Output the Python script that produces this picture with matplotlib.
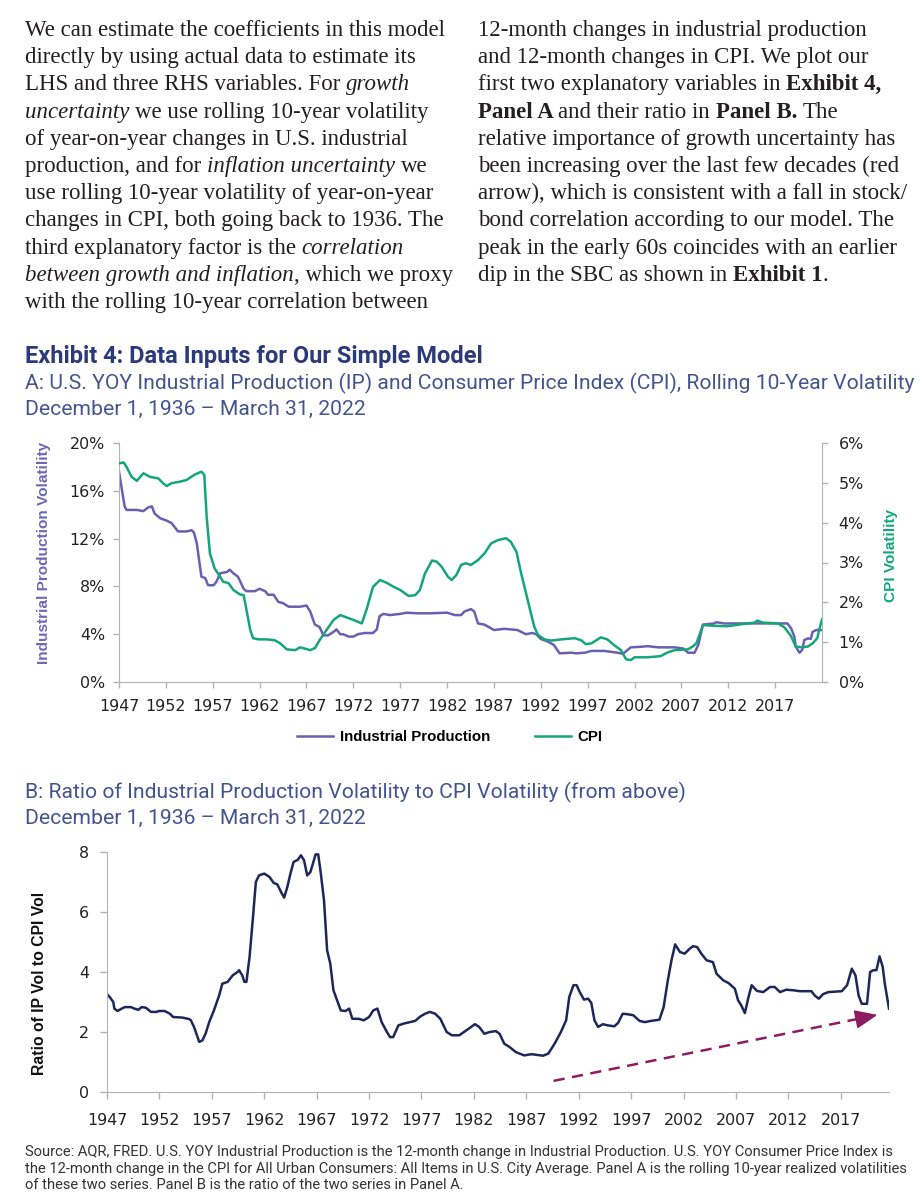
import matplotlib
matplotlib.use("Agg")
import matplotlib.pyplot as plt
from matplotlib.ticker import FuncFormatter

# ---------------- data ----------------
ip_years = [1947.0, 1947.6, 1947.8, 1948.9, 1949.6, 1950.1, 1950.5, 1950.8, 1951.4, 1952.1,
            1952.6, 1953.3, 1954.2, 1954.75, 1955.0, 1955.3, 1955.6, 1955.8, 1956.2, 1956.5,
            1957.1, 1957.4, 1957.8, 1958.5, 1958.8, 1959.2, 1959.7, 1960.3, 1960.6, 1961.5,
            1962.0, 1962.6, 1962.9, 1963.5, 1964.0, 1964.5, 1965.1, 1966.3, 1967.0, 1967.4,
            1967.9, 1968.4, 1968.8, 1969.3, 1969.9, 1970.2, 1970.6, 1970.9, 1971.5, 1972.0,
            1972.5, 1973.2, 1974.1, 1974.5, 1974.8, 1975.2, 1975.9, 1977.0, 1977.7, 1978.8,
            1980.2, 1982.0, 1982.85, 1983.5, 1983.85, 1984.55, 1984.9, 1985.3, 1986.0, 1987.0,
            1988.1, 1989.5, 1989.9, 1990.4, 1991.1, 1991.5, 1992.0, 1992.7, 1993.4, 1994.0,
            1995.2, 1995.8, 1996.7, 1997.4, 1998.8, 2000.2, 2000.8, 2000.9, 2001.6, 2002.7,
            2003.4, 2004.5, 2006.3, 2007.2, 2007.7, 2008.4, 2008.8, 2009.3, 2010.5, 2010.7,
            2011.6, 2013.0, 2014.4, 2015.5, 2016.9, 2018.3, 2018.7, 2019.05, 2019.2, 2019.6,
            2019.9, 2020.1, 2020.5, 2020.8, 2021.0, 2021.4, 2022.0]
ip_vol = [17.6, 14.7, 14.4, 14.4, 14.3, 14.6, 14.7, 14.1, 13.7, 13.5,
          13.3, 12.6, 12.6, 12.7, 12.5, 11.6, 9.9, 8.8, 8.7, 8.1,
          8.1, 8.4, 9.1, 9.2, 9.4, 9.1, 8.8, 7.8, 7.6, 7.6,
          7.8, 7.6, 7.3, 7.3, 6.7, 6.6, 6.3, 6.3, 6.4, 5.9,
          4.8, 4.6, 3.9, 3.9, 4.2, 4.4, 4.0, 4.0, 3.8, 3.8,
          4.0, 4.1, 4.1, 4.4, 5.5, 5.7, 5.6, 5.7, 5.8, 5.75,
          5.75, 5.8, 5.6, 5.6, 5.9, 6.1, 5.9, 4.9, 4.8, 4.35,
          4.45, 4.35, 4.2, 4.0, 4.1, 4.0, 3.6, 3.4, 3.1, 2.4,
          2.45, 2.4, 2.45, 2.6, 2.6, 2.45, 2.35, 2.45, 2.9, 2.95,
          3.0, 2.9, 2.9, 2.8, 2.45, 2.45, 3.1, 4.8, 4.9, 5.0,
          4.9, 4.9, 4.9, 4.9, 4.9, 4.9, 4.5, 3.8, 2.95, 2.45,
          2.7, 3.5, 3.65, 3.6, 4.2, 4.35, 4.35]

cpi_years = [1947.0, 1947.5, 1947.8, 1948.35, 1948.9, 1949.6, 1950.3, 1951.2, 1951.7, 1952.1,
             1952.6, 1953.5, 1954.2, 1955.1, 1955.8, 1956.1, 1956.35, 1956.7, 1957.2, 1957.8,
             1958.1, 1958.7, 1959.2, 1959.9, 1960.3, 1960.6, 1961.0, 1961.3, 1961.9, 1962.75,
             1963.6, 1964.2, 1964.9, 1965.8, 1966.3, 1966.8, 1967.4, 1967.9, 1968.4, 1969.15,
             1969.9, 1970.6, 1971.3, 1972.0, 1972.9, 1973.4, 1974.1, 1974.85, 1975.55, 1976.3,
             1977.0, 1977.9, 1978.6, 1979.1, 1979.65, 1980.4, 1980.9, 1981.4, 1982.1, 1982.5,
             1983.0, 1983.5, 1984.0, 1984.55, 1985.3, 1986.0, 1986.7, 1987.4, 1988.3, 1988.8,
             1989.4, 1989.9, 1990.6, 1991.3, 1991.7, 1992.4, 1993.1, 1994.2, 1995.6, 1996.3,
             1996.8, 1997.4, 1998.4, 1999.1, 1999.8, 2000.55, 2001.1, 2001.6, 2002.0, 2003.4,
             2004.8, 2005.5, 2006.3, 2007.7, 2008.2, 2008.6, 2009.3, 2010.5, 2011.9, 2013.7,
             2014.8, 2015.1, 2015.7, 2017.3, 2018.0, 2018.7, 2019.2, 2019.8, 2020.5, 2021.0,
             2021.5, 2021.7, 2022.0]
cpi_vol = [5.49, 5.51, 5.4, 5.15, 5.05, 5.24, 5.15, 5.11, 4.99, 4.92,
           4.99, 5.03, 5.07, 5.21, 5.28, 5.2, 4.15, 3.23, 2.85, 2.64,
           2.52, 2.48, 2.31, 2.2, 2.18, 1.81, 1.31, 1.1, 1.07, 1.07,
           1.05, 0.97, 0.82, 0.8, 0.87, 0.84, 0.8, 0.85, 1.05, 1.31,
           1.56, 1.68, 1.62, 1.56, 1.47, 1.81, 2.39, 2.56, 2.49, 2.39,
           2.31, 2.16, 2.18, 2.31, 2.73, 3.05, 3.02, 2.9, 2.64, 2.56,
           2.69, 2.94, 2.98, 2.94, 3.06, 3.23, 3.48, 3.56, 3.61, 3.52,
           3.27, 2.73, 2.06, 1.39, 1.18, 1.07, 1.04, 1.07, 1.1, 1.05,
           0.95, 0.97, 1.12, 1.07, 0.93, 0.8, 0.57, 0.55, 0.62, 0.62,
           0.65, 0.74, 0.8, 0.82, 0.89, 0.97, 1.43, 1.41, 1.4, 1.46,
           1.49, 1.54, 1.49, 1.47, 1.37, 1.15, 0.89, 0.87, 0.89, 0.97,
           1.1, 1.31, 1.57]

ratio_years = [1947.0, 1947.25, 1947.6, 1947.7, 1948.0, 1948.4, 1948.7, 1949.3, 1949.6, 1950.0,
               1950.3, 1950.7, 1951.2, 1951.7, 1952.0, 1952.5, 1953.0, 1953.3, 1954.2, 1954.85,
               1955.0, 1955.3, 1955.8, 1956.1, 1956.4, 1956.75, 1957.2, 1957.7, 1958.0, 1958.5,
               1959.0, 1959.45, 1959.6, 1959.9, 1960.1, 1960.3, 1960.6, 1960.9, 1961.2, 1961.5,
               1962.0, 1962.5, 1962.9, 1963.25, 1963.6, 1963.9, 1964.2, 1964.5, 1964.8, 1965.2,
               1965.5, 1965.8, 1966.1, 1966.4, 1966.6, 1966.9, 1967.15, 1967.4, 1967.7, 1968.0,
               1968.3, 1968.6, 1968.95, 1969.3, 1969.75, 1970.1, 1970.4, 1971.0, 1971.5, 1972.0,
               1972.4, 1972.8, 1972.9, 1973.2, 1973.7, 1974.0, 1974.3, 1974.8, 1975.3, 1975.9,
               1976.4, 1976.9, 1977.35, 1977.8, 1978.3, 1978.8, 1979.4, 1979.9, 1980.6, 1981.3,
               1982.1, 1982.5, 1983.0, 1983.5, 1984.1, 1984.45, 1984.9, 1985.4, 1986.0, 1986.8,
               1987.5, 1988.6, 1989.1, 1989.7, 1990.3, 1990.8, 1991.1, 1991.5, 1991.8, 1992.1,
               1992.5, 1992.9, 1993.2, 1993.5, 1993.85, 1994.3, 1994.8, 1995.4, 1995.75, 1996.2,
               1996.7, 1997.2, 1997.8, 1998.3, 1998.9, 1999.7, 2000.1, 2000.5, 2000.85, 2001.2,
               2001.65, 2002.1, 2002.6, 2002.9, 2003.3, 2003.7, 2004.2, 2004.8, 2005.15, 2005.8,
               2006.3, 2006.9, 2007.2, 2007.5, 2007.85, 2008.2, 2008.5, 2009.0, 2009.6, 2010.25,
               2010.7, 2011.2, 2011.8, 2012.5, 2013.1, 2014.2, 2014.5, 2014.9, 2015.3, 2015.8,
               2017.1, 2017.6, 2018.05, 2018.4, 2018.7, 2019.0, 2019.5, 2019.8, 2020.1, 2020.4,
               2020.7, 2021.0, 2021.2, 2021.6]
ratio_values = [3.26, 3.17, 3.0, 2.78, 2.7, 2.78, 2.83, 2.83, 2.78, 2.74,
                2.83, 2.81, 2.67, 2.67, 2.7, 2.7, 2.61, 2.5, 2.48, 2.43,
                2.39, 2.17, 1.67, 1.72, 1.94, 2.33, 2.72, 3.22, 3.61, 3.67,
                3.89, 4.0, 4.06, 3.89, 3.67, 3.67, 4.5, 5.72, 7.0, 7.22,
                7.28, 7.17, 6.97, 6.92, 6.67, 6.48, 6.83, 7.28, 7.67, 7.74,
                7.89, 7.72, 7.22, 7.33, 7.56, 7.92, 7.92, 7.28, 6.39, 4.72,
                4.28, 3.39, 3.06, 2.72, 2.7, 2.78, 2.44, 2.44, 2.39, 2.5,
                2.72, 2.78, 2.67, 2.33, 2.0, 1.83, 1.83, 2.22, 2.28, 2.33,
                2.37, 2.52, 2.61, 2.67, 2.61, 2.44, 2.0, 1.89, 1.89, 2.06,
                2.26, 2.17, 1.94, 2.0, 2.03, 1.94, 1.61, 1.5, 1.33, 1.22,
                1.26, 1.21, 1.28, 1.61, 2.0, 2.39, 3.17, 3.56, 3.56, 3.33,
                3.08, 3.11, 2.97, 2.39, 2.17, 2.26, 2.22, 2.19, 2.3, 2.61,
                2.59, 2.56, 2.37, 2.33, 2.37, 2.41, 2.83, 3.72, 4.39, 4.92,
                4.67, 4.61, 4.78, 4.86, 4.83, 4.61, 4.39, 4.33, 3.94, 3.72,
                3.63, 3.44, 3.06, 2.89, 2.63, 3.17, 3.56, 3.37, 3.33, 3.5,
                3.5, 3.33, 3.41, 3.39, 3.36, 3.36, 3.22, 3.11, 3.26, 3.33,
                3.36, 3.56, 4.11, 3.89, 3.22, 2.94, 2.94, 4.0, 4.06, 4.06,
                4.52, 4.17, 3.61, 2.78]

year_ticks = [1947, 1952, 1957, 1962, 1967, 1972, 1977, 1982, 1987, 1992, 1997, 2002, 2007, 2012, 2017]
ip_ticks = [0, 4, 8, 12, 16, 20]
cpi_ticks = [0, 1, 2, 3, 4, 5, 6]
ratio_ticks = [0, 2, 4, 6, 8]
trend_start = (1989.6, 0.37)
trend_end = (2020.5, 2.57)

body_left = [
    [("We can estimate the coefficients in this model", "r")],
    [("directly by using actual data to estimate its", "r")],
    [("LHS and three RHS variables. For ", "r"), ("growth", "i")],
    [("uncertainty ", "i"), ("we use rolling 10-year volatility", "r")],
    [("of year-on-year changes in U.S. industrial", "r")],
    [("production, and for ", "r"), ("inflation uncertainty ", "i"), ("we", "r")],
    [("use rolling 10-year volatility of year-on-year", "r")],
    [("changes in CPI, both going back to 1936. The", "r")],
    [("third explanatory factor is the ", "r"), ("correlation", "i")],
    [("between growth and inflation", "i"), (", which we proxy", "r")],
    [("with the rolling 10-year correlation between", "r")],
]
body_right = [
    [("12-month changes in industrial production", "r")],
    [("and 12-month changes in CPI. We plot our", "r")],
    [("first two explanatory variables in ", "r"), ("Exhibit 4,", "b")],
    [("Panel A ", "b"), ("and their ratio in ", "r"), ("Panel B. ", "b"), ("The", "r")],
    [("relative importance of growth uncertainty has", "r")],
    [("been increasing over the last few decades (red", "r")],
    [("arrow), which is consistent with a fall in stock/", "r")],
    [("bond correlation according to our model. The", "r")],
    [("peak in the early 60s coincides with an earlier", "r")],
    [("dip in the SBC as shown in ", "r"), ("Exhibit 1", "b"), (".", "r")],
]
title = "Exhibit 4: Data Inputs for Our Simple Model"
sub_a = "A: U.S. YOY Industrial Production (IP) and Consumer Price Index (CPI), Rolling 10-Year Volatility"
sub_b = "B: Ratio of Industrial Production Volatility to CPI Volatility (from above)"
date_line = "December 1, 1936 \u2013 March 31, 2022"
footer = [
    "Source: AQR, FRED. U.S. YOY Industrial Production is the 12-month change in Industrial Production. U.S. YOY Consumer Price Index is",
    "the 12-month change in the CPI for All Urban Consumers: All Items in U.S. City Average. Panel A is the rolling 10-year realized volatilities",
    "of these two series. Panel B is the ratio of the two series in Panel A.",
]

# ---------------- styling ----------------
IP_C = "#6a60b2"
CPI_C = "#14a67b"
RATIO_C = "#1d2859"
ARROW_C = "#8e1c62"
TITLE_C = "#2b3a78"
SUB_C = "#44548f"
SPINE_C = "#b3b3b3"
TICK_C = "#222222"
BODY_C = "#231f20"
SERIF = "Liberation Serif"
SANS = "Roboto"
LAB = "Liberation Sans"
TICK_FAMILY = "DejaVu Sans"
TICK_SIZE = 11.4

W, H = 922, 1200
fig = plt.figure(figsize=(9.22, 12), dpi=100)
renderer = fig.canvas.get_renderer()


def fx(x):
    return x / W


def fy(y):
    return 1 - y / H


def text_width(s, **kw):
    t = fig.text(0, 0, s, **kw)
    w = t.get_window_extent(renderer).width
    t.remove()
    return w


def fit_size(s, target, **kw):
    return 12 * target / text_width(s, fontsize=12, **kw)


def style_kw(style, size, family, color):
    kw = dict(fontsize=size, family=family, color=color)
    if style == "i":
        kw["style"] = "italic"
    elif style == "b":
        kw["weight"] = "bold"
    return kw


def rich_line(x, y, segments, size, family, color):
    cur = x
    for s, st in segments:
        kw = style_kw(st, size, family, color)
        fig.text(fx(cur), fy(y), s, va="baseline", ha="left", **kw)
        cur += text_width(s + "x", **kw) - text_width("x", **kw)


def style_ticklabels(ax, which="both"):
    labs = []
    if which in ("both", "x"):
        labs += ax.get_xticklabels()
    if which in ("both", "y"):
        labs += ax.get_yticklabels()
    for lab in labs:
        lab.set_fontfamily(TICK_FAMILY)
        lab.set_fontsize(TICK_SIZE)


# ---------------- body text ----------------
body_size = fit_size(body_left[0][0][0], 419, family=SERIF)
for i, line in enumerate(body_left):
    rich_line(25, 36 + 27.2 * i, line, body_size, SERIF, BODY_C)
for i, line in enumerate(body_right):
    rich_line(478, 36 + 27.2 * i, line, body_size, SERIF, BODY_C)

# ---------------- titles ----------------
t_size = fit_size(title, 457, family=SANS, weight="bold")
fig.text(fx(25), fy(363), title, fontsize=t_size, family=SANS, weight="bold",
         color=TITLE_C, va="baseline")
s_size = fit_size(sub_a, 883, family=SANS)
fig.text(fx(25), fy(389), sub_a, fontsize=s_size, family=SANS, color=SUB_C, va="baseline")
fig.text(fx(25), fy(415), date_line, fontsize=s_size, family=SANS, color=SUB_C, va="baseline")
fig.text(fx(25), fy(798), sub_b, fontsize=s_size, family=SANS, color=SUB_C, va="baseline")
fig.text(fx(25), fy(824), date_line, fontsize=s_size, family=SANS, color=SUB_C, va="baseline")

f_size = min(fit_size(footer[0], 878, family=SANS), fit_size(footer[1], 880, family=SANS))
for i, line in enumerate(footer):
    fig.text(fx(25), fy(1156 + 16.5 * i), line, fontsize=f_size, family=SANS,
             color="#333333", va="baseline")

# ---------------- panel A ----------------
axA = fig.add_axes([fx(119), fy(682), (822 - 119) / W, (682 - 443) / H])
lip, = axA.plot(ip_years, ip_vol, color=IP_C, lw=1.8, label="Industrial Production")
axA.set_xlim(1947, 2022)
axA.set_ylim(0, 20)
axA.set_yticks(ip_ticks)
axA.set_xticks(year_ticks)
axA.yaxis.set_major_formatter(FuncFormatter(lambda v, p: f"{v:.0f}%"))
for s in ["top", "right"]:
    axA.spines[s].set_visible(False)
for s in ["left", "bottom"]:
    axA.spines[s].set_color(SPINE_C)
axA.tick_params(axis="both", color=SPINE_C, length=4, width=1, labelcolor=TICK_C)
axA.tick_params(axis="x", pad=8)
axA.tick_params(axis="y", pad=6)
style_ticklabels(axA)

axA2 = axA.twinx()
lcpi, = axA2.plot(cpi_years, cpi_vol, color=CPI_C, lw=1.8, label="CPI")
axA2.set_ylim(0, 6)
axA2.set_yticks(cpi_ticks)
axA2.yaxis.set_major_formatter(FuncFormatter(lambda v, p: f"{v:.0f}%"))
for s in ["top", "left", "bottom"]:
    axA2.spines[s].set_visible(False)
axA2.spines["right"].set_color(SPINE_C)
axA2.tick_params(axis="y", color=SPINE_C, length=4, width=1, labelcolor=TICK_C, pad=8)
style_ticklabels(axA2, "y")

lbl1 = "Industrial Production Volatility"
lab_size = fit_size(lbl1, 220, family=LAB, weight="bold")
fig.text(fx(44), fy(553), lbl1, rotation=90, ha="center", va="center",
         fontsize=lab_size, family=LAB, weight="bold", color="#6f66b8")
lbl2 = "CPI Volatility"
fig.text(fx(891), fy(555), lbl2, rotation=90, ha="center", va="center",
         fontsize=lab_size, family=LAB, weight="bold", color=CPI_C)

axA.legend([lip, lcpi], ["Industrial Production", "CPI"], loc="center",
           bbox_to_anchor=(fx(450), fy(737)), bbox_transform=fig.transFigure,
           ncol=2, frameon=False, prop=dict(family=LAB, weight="bold", size=10.8),
           handlelength=2.4, handletextpad=0.45, columnspacing=3.0, borderpad=0)

# ---------------- panel B ----------------
axB = fig.add_axes([fx(107), fy(1092), (889 - 107) / W, 240 / H])
axB.plot(ratio_years, ratio_values, color=RATIO_C, lw=1.8)
axB.set_xlim(1947, 2021.6)
axB.set_ylim(0, 8)
axB.set_yticks(ratio_ticks)
axB.set_xticks(year_ticks)
for s in ["top", "right"]:
    axB.spines[s].set_visible(False)
for s in ["left", "bottom"]:
    axB.spines[s].set_color(SPINE_C)
axB.tick_params(axis="both", color=SPINE_C, length=5, width=1, labelcolor=TICK_C)
axB.tick_params(axis="x", pad=10)
axB.tick_params(axis="y", pad=8)
style_ticklabels(axB)

# trend arrow: dashed shaft + solid head
hx = trend_end[0] - (trend_end[0] - trend_start[0]) * 0.05
hy = trend_end[1] - (trend_end[1] - trend_start[1]) * 0.05
axB.plot([trend_start[0], hx], [trend_start[1], hy], color=ARROW_C, lw=1.8,
         dashes=(4.5, 3))
axB.annotate("", xy=trend_end, xytext=(hx, hy),
             arrowprops=dict(arrowstyle="-|>,head_length=1.0,head_width=0.42",
                             color=ARROW_C, lw=1.2, shrinkA=0, shrinkB=0,
                             mutation_scale=14))

lbl3 = "Ratio of IP Vol to CPI Vol"
fig.text(fx(40), fy(983), lbl3, rotation=90, ha="center", va="center",
         fontsize=fit_size(lbl3, 182, family=LAB, weight="bold"), family=LAB,
         weight="bold", color="#111111")

fig.savefig("out.png", dpi=100)
